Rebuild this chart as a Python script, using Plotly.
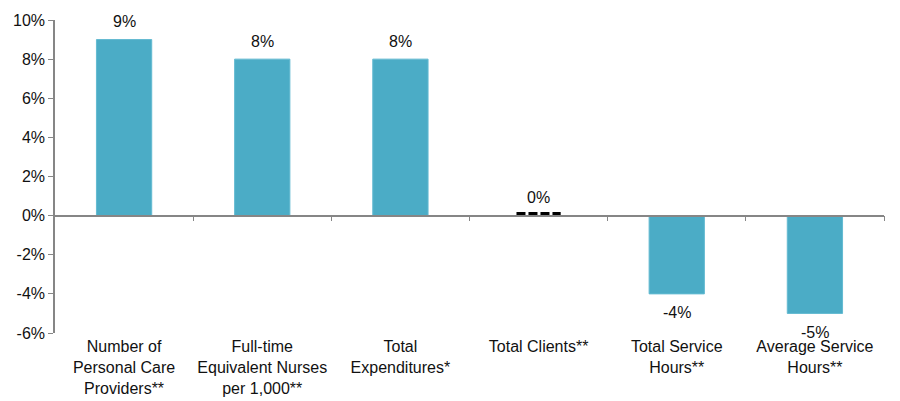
import plotly.graph_objects as go

categories = [
    "Number of<br>Personal Care<br>Providers**",
    "Full-time<br>Equivalent Nurses<br>per 1,000**",
    "Total<br>Expenditures*",
    "Total Clients**",
    "Total Service<br>Hours**",
    "Average Service<br>Hours**",
]
values = [9, 8, 8, 0, -4, -5]
ytick_vals = [-6, -4, -2, 0, 2, 4, 6, 8, 10]
ytick_text = [f"{v}%" for v in ytick_vals]

idx = list(range(len(categories)))
bar_w = 0.4
font = dict(family="Liberation Sans, Arial, sans-serif", size=16, color="#111111")

fig = go.Figure()

fig.add_trace(go.Bar(
    x=idx,
    y=values,
    width=bar_w,
    marker=dict(color="#4BACC6", line=dict(color="#63BAD1", width=1)),
    showlegend=False,
))

# value labels
for i, v in zip(idx, values):
    fig.add_annotation(
        x=i, y=v, text=f"{v}%", showarrow=False, font=font,
        yanchor="middle", yshift=18 if v >= 0 else -19,
    )

# dashed marker for the zero value
for i, v in zip(idx, values):
    if v == 0:
        fig.add_trace(go.Scatter(
            x=[i - bar_w / 2 + 0.04, i + bar_w / 2 - 0.04], y=[v + 0.08, v + 0.08],
            mode="lines",
            line=dict(color="black", width=4, dash="9px,3px"),
            showlegend=False, hoverinfo="skip",
        ))

# zero axis with category dividers (an x axis placed at y = 0)
fig.add_trace(go.Scatter(x=[idx[0]], y=[0], xaxis="x2", mode="markers",
                         marker=dict(opacity=0), showlegend=False, hoverinfo="skip"))

xr = [-0.5, len(categories) - 0.5]
yr = [-6, 10]

fig.update_layout(
    width=900, height=401,
    margin=dict(l=47, r=24, t=12, b=76),
    plot_bgcolor="white", paper_bgcolor="white",
    font=font,
    xaxis=dict(
        range=xr, tickvals=idx, ticktext=categories,
        showline=False, showgrid=False, zeroline=False, ticks="",
        tickfont=font, automargin=False, ticklabelstandoff=2,
    ),
    xaxis2=dict(
        range=xr, overlaying="x", anchor="free",
        position=(0 - yr[0]) / (yr[1] - yr[0]),
        showline=True, linecolor="#868686", linewidth=1.5,
        ticks="outside", ticklen=5, tickcolor="#868686",
        tickvals=[i + 0.5 for i in idx], showticklabels=False,
        showgrid=False, zeroline=False, automargin=False,
    ),
    yaxis=dict(
        range=yr, tickvals=ytick_vals, ticktext=ytick_text,
        showline=True, linecolor="#868686", linewidth=1.5,
        ticks="outside", ticklen=5, tickcolor="#868686",
        showgrid=False, zeroline=False, tickfont=font, automargin=False,
    ),
)

fig.write_html("out.html")
